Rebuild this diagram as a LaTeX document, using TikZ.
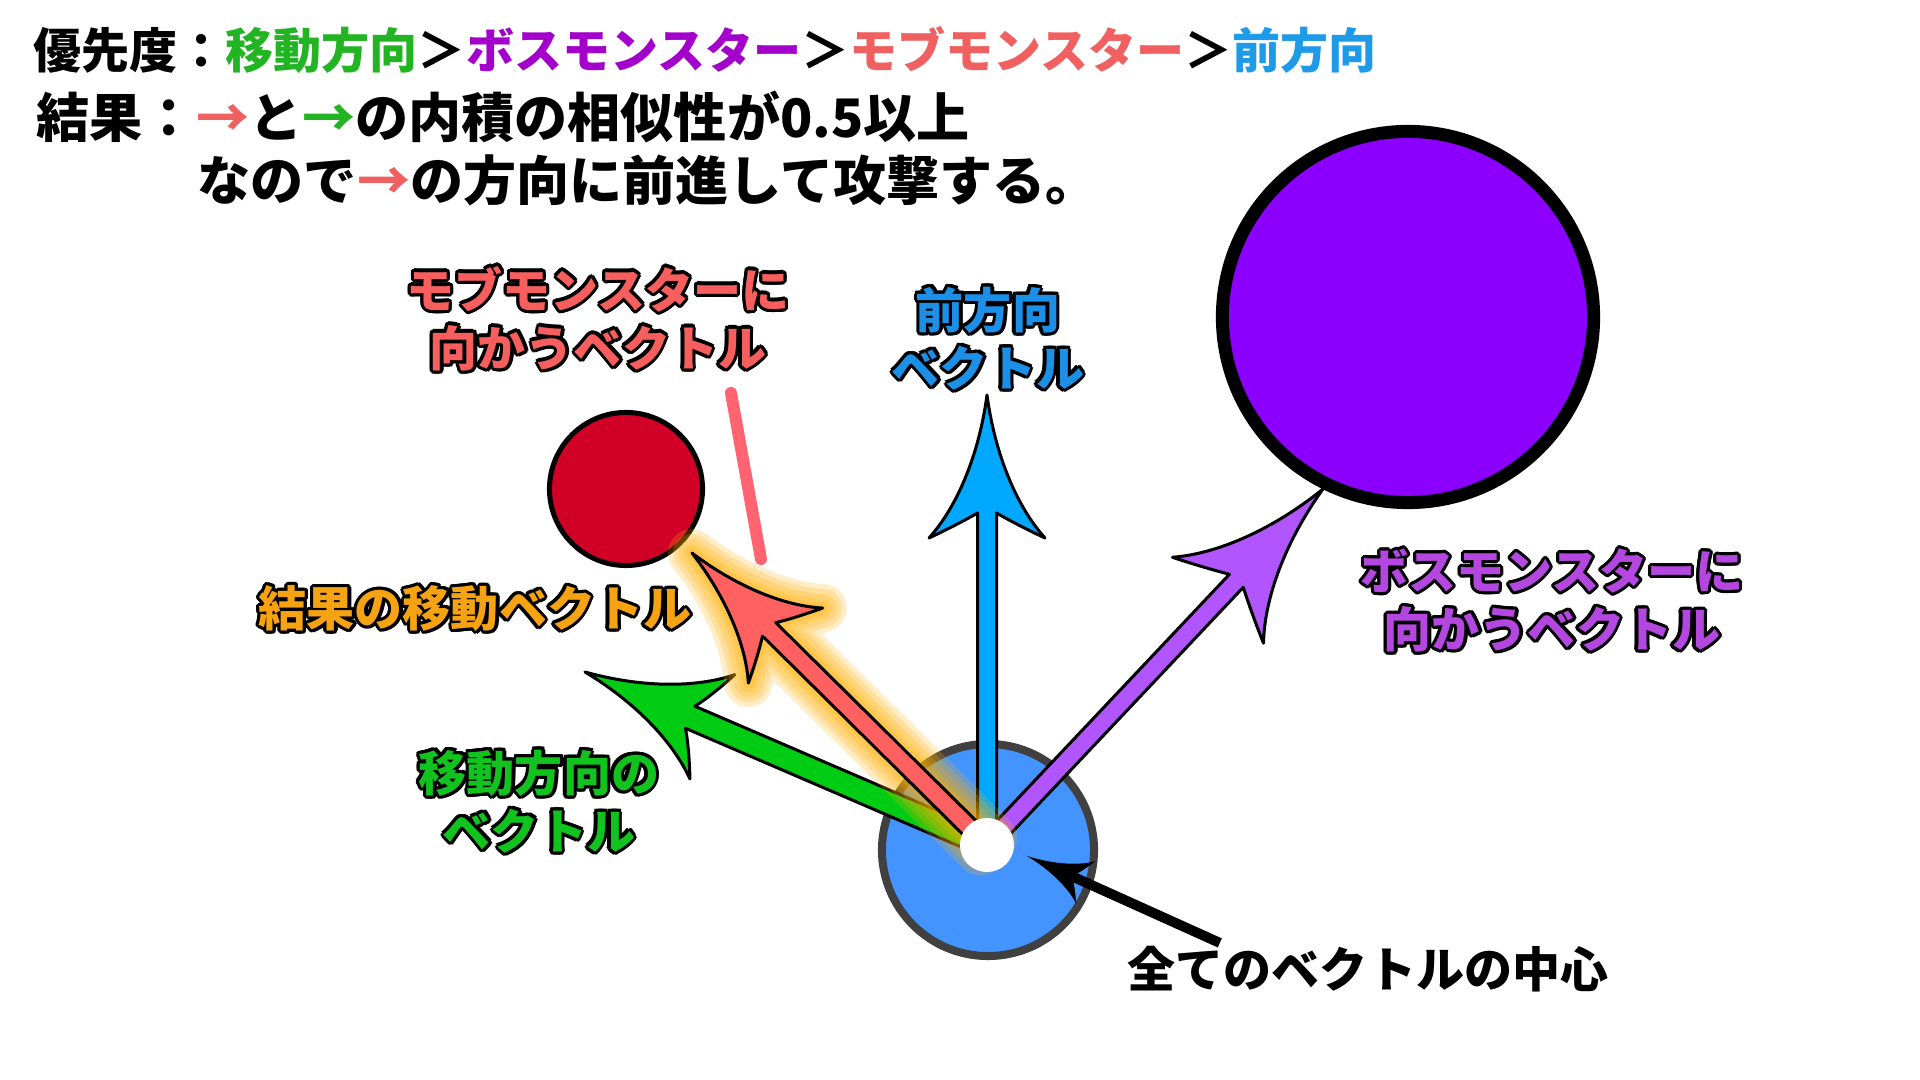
\documentclass[tikz,border=0pt]{standalone}
\usepackage{fontspec}
\setmainfont{Noto Sans CJK JP}
\usepackage[copies]{contour}
\contourlength{0.9pt}
\contournumber{16}
\usetikzlibrary{calc}
\definecolor{hG}{HTML}{22B422}
\definecolor{hP}{HTML}{A400CC}
\definecolor{hR}{HTML}{F06060}
\definecolor{hB}{HTML}{1E9BE8}
\definecolor{lR}{HTML}{F75F5F}
\definecolor{lB}{HTML}{1C8FE6}
\definecolor{lP}{HTML}{B447E0}
\definecolor{lO}{HTML}{F5A312}
\definecolor{lG}{HTML}{12C21E}
\definecolor{aB}{HTML}{00A8FF}
\definecolor{aP}{HTML}{B155FF}
\definecolor{aR}{HTML}{FF6060}
\definecolor{aG}{HTML}{00CC14}
\definecolor{glow}{HTML}{FFB000}
\definecolor{boss}{HTML}{8C00FF}
\definecolor{mob}{HTML}{D00026}
\definecolor{base}{HTML}{4494FF}
\definecolor{pinkline}{HTML}{FF6470}
\newcommand\vecarrow[6]{%
  \path let \p1=($(#2)-(#1)$) in \pgfextra{%
    \pgfmathsetmacro\vaA{atan2(\y1,\x1)}%
    \pgfmathsetmacro\vaL{veclen(\x1,\y1)/0.284528}%
    \xdef\vaAng{\vaA}\xdef\vaLen{\vaL}};
  \begin{scope}[shift={(#2)},rotate=\vaAng]
    \path[#3] ({-\vaLen},{-#4}) -- ({-118*#5},{-#4})
      .. controls ({-127*#5},{-25*#6}) and ({-137*#5},{-45*#6}) .. ({-143*#5},{-58*#6})
      .. controls ({-112*#5},{-30*#6}) and ({-60*#5},{-8*#6}) .. (0,0)
      .. controls ({-60*#5},{8*#6}) and ({-112*#5},{30*#6}) .. ({-143*#5},{58*#6})
      .. controls ({-137*#5},{45*#6}) and ({-127*#5},{25*#6}) .. ({-118*#5},{#4})
      -- ({-\vaLen},{#4}) -- cycle;
  \end{scope}}
\begin{document}
\begin{tikzpicture}[x=0.01cm,y=-0.01cm,
  txt/.style={inner sep=0pt, font=\fontsize{13.66pt}{16.5pt}\selectfont\bfseries},
  big/.style={inner sep=0pt, font=\fontsize{15.1pt}{18pt}\selectfont\bfseries},
  lbl/.style={txt, align=center},
  arw/.style={fill=#1, draw=black, line width=0.03cm, line join=round},
  glw/.style={draw=glow, line width=#1, line join=round, opacity=0.22}]
\fill[white] (0,0) rectangle (1920,1080);
\useasboundingbox (0,0) rectangle (1920,1080);
% header
\node[txt, anchor=west] (h1) at (33,50) {優先度：{\color{hG}移動方向}＞{\color{hP}ボスモンスター}＞{\color{hR}モブモンスター}＞{\color{hB}前方向}};
\node[big, anchor=west] (h2) at (36,117) {結果：{\color{hR}→}と{\color{hG}→}の内積の相似性が0.5以上};
\node[big, anchor=west] (h3) at (197,180) {なので{\color{hR}→}の方向に前進して攻撃する。};
% monsters
\node[circle, draw=black, line width=0.13cm, fill=boss, minimum size=3.71cm, inner sep=0] (bossc) at (1408,317) {};
\node[circle, draw=black, line width=0.05cm, fill=mob, minimum size=1.53cm, inner sep=0] (mobc) at (626,489) {};
\coordinate (m1) at (731,393);
\coordinate (m2) at (761,559);
\draw[pinkline, line width=0.12cm, line cap=round] (m1) -- (m2);
% base
\node[circle, draw=black!75, line width=0.08cm, fill=base, minimum size=2.12cm, inner sep=0] (basec) at (988,850) {};
\coordinate (o) at (987,845);
\coordinate (tB) at (987,395);
\coordinate (tP) at (1323,489);
\coordinate (tR) at (692,553);
\coordinate (tG) at (585,672);
\vecarrow{o}{tB}{arw=aB}{9.5}{1.0}{1.0}
\vecarrow{o}{tP}{arw=aP}{9.5}{1.07}{1.08}
\vecarrow{o}{tG}{arw=aG}{12}{0.97}{0.98}
\vecarrow{o}{tR}{glw=0.48cm}{9.5}{0.92}{0.91}
\vecarrow{o}{tR}{glw=0.38cm}{9.5}{0.92}{0.91}
\vecarrow{o}{tR}{glw=0.28cm}{9.5}{0.92}{0.91}
\vecarrow{o}{tR}{glw=0.18cm}{9.5}{0.92}{0.91}
\vecarrow{o}{tR}{glw=0.10cm}{9.5}{0.92}{0.91}
\vecarrow{o}{tR}{arw=aR}{9.5}{0.92}{0.91}
\node[circle, fill=white, minimum size=0.54cm, inner sep=0] (dot) at (o) {};
% pointer
\coordinate (pe) at (1220,943);
\coordinate (pt) at (1027,856);
\vecarrow{pe}{pt}{fill=black}{5}{0.45}{0.40}
% labels
\node[lbl, text=lR] (lmob) at (598,320) {\contour{black}{モブモンスターに}\\\contour{black}{向かうベクトル}};
\node[lbl, text=lB] (lfwd) at (988,340) {\contour{black}{前方向}\\\contour{black}{ベクトル}};
\node[lbl, text=lP] (lboss) at (1552,602) {\contour{black}{ボスモンスターに}\\\contour{black}{向かうベクトル}};
\node[lbl, text=lO] (lres) at (475,610) {\contour{black}{結果の移動ベクトル}};
\node[lbl, text=lG] (lmove) at (539,803) {\contour{black}{移動方向の}\\\contour{black}{ベクトル}};
\node[txt, text=black] (lcen) at (1368,969) {全てのベクトルの中心};
\end{tikzpicture}
\end{document}
